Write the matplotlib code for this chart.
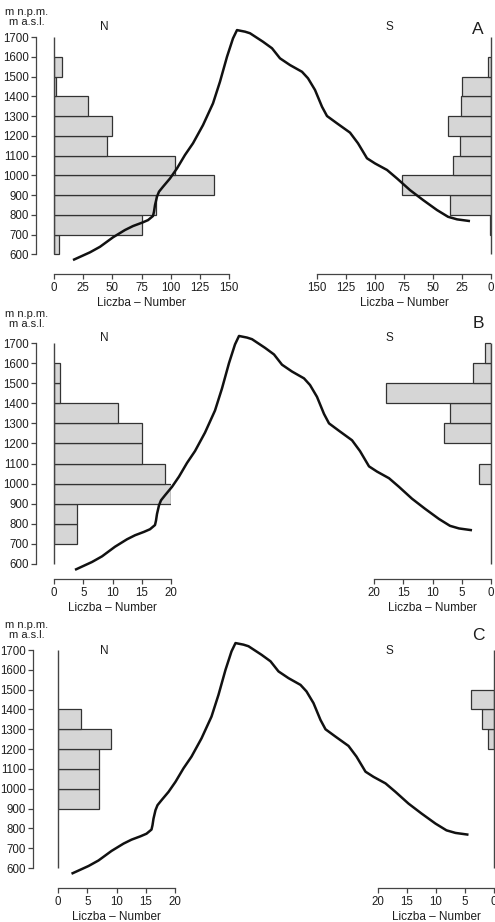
import matplotlib
matplotlib.use('Agg')
import matplotlib.pyplot as plt

W, H = 495, 922
FONT = ['Liberation Sans', 'DejaVu Sans']
plt.rcParams['font.family'] = FONT

# ---------------- data ----------------
elev_bins = [600, 700, 800, 900, 1000, 1100, 1200, 1300, 1400, 1500, 1600]
elev_ticks = [600, 700, 800, 900, 1000, 1100, 1200, 1300, 1400, 1500, 1600, 1700]

A_north = [4, 75, 87, 137, 104, 45, 50, 29, 2, 7, 0]
A_south = [0, 1, 35, 77, 33, 27, 37, 26, 25, 3, 0]
B_north = [0, 4, 4, 20, 19, 15, 15, 11, 1, 1, 0]
B_south = [0, 0, 0, 0, 2, 0, 8, 7, 18, 3, 1]
C_north = [0, 0, 0, 7, 7, 7, 9, 4, 0, 0, 0]
C_south = [0, 0, 0, 0, 0, 0, 1, 2, 4, 0, 0]

A_count_ticks = [0, 25, 50, 75, 100, 125, 150]
BC_count_ticks = [0, 5, 10, 15, 20]

# terrain profile across the ridge (distance units along transect, m a.s.l.)
profile_dist = [73, 90, 100, 113, 125, 133, 142, 148, 153, 154, 155, 157, 159,
                163, 170, 177, 185, 193, 203, 213, 220, 227, 233, 237, 245, 250,
                263, 272, 280, 290, 302, 308, 315, 322, 327, 337, 350, 358, 367,
                375, 387, 397, 410, 423, 437, 448, 457, 470]
profile_elev = [571, 610, 638, 686, 723, 743, 760, 773, 794, 816, 849, 892, 917,
                942, 984, 1035, 1103, 1162, 1254, 1364, 1474, 1600, 1693, 1735, 1727, 1719,
                1676, 1643, 1592, 1558, 1524, 1491, 1432, 1347, 1300, 1263, 1216, 1162, 1086,
                1060, 1027, 984, 925, 875, 824, 790, 777, 768]

unit_label = 'm n.p.m.\nm a.s.l.'
xlabel_txt = 'Liczba – Number'

# ---------------- layout (pixels) ----------------
panels = [
    dict(letter='A', north=A_north, south=A_south, nmax=150, smax=150,
         nticks=A_count_ticks, sticks=A_count_ticks,
         y1700=37, y600=254.3, ybot=274, yaxis_x=41, zn=54, sn=175 / 150,
         zs=491, ss=174 / 150, shift=0, letter_y=30, ns_y=27, unit_y=17),
    dict(letter='B', north=B_north, south=B_south, nmax=20, smax=20,
         nticks=BC_count_ticks, sticks=BC_count_ticks,
         y1700=343, y600=564, ybot=579, yaxis_x=41, zn=54, sn=117 / 20,
         zs=491, ss=117 / 20, shift=2, letter_y=323, ns_y=338, unit_y=319),
    dict(letter='C', north=C_north, south=C_south, nmax=20, smax=20,
         nticks=BC_count_ticks, sticks=BC_count_ticks,
         y1700=650, y600=868, ybot=888, yaxis_x=40, zn=58, sn=117 / 20,
         zs=494, ss=116 / 20, shift=-1.5, letter_y=635, ns_y=651, unit_y=630),
]

BAR_FC = '#d6d6d6'
BAR_EC = '#333333'
AX_C = '#444444'
TXT_C = '#1e1e1e'
TICK_FS = 8.3
LAB_FS = 8.5

fig = plt.figure(figsize=(W / 100, H / 100), dpi=100)


def box(x0, x1, ytop, ybot):
    return [x0 / W, 1 - ybot / H, (x1 - x0) / W, (ybot - ytop) / H]


for p in panels:
    k = (p['y600'] - p['y1700']) / 1100.0  # px per metre
    top_px = p['y1700'] - 16
    ylim = (600 - (p['ybot'] - p['y600']) / k, 1700 + 16 / k)

    # ---- north histogram ----
    axn = fig.add_axes(box(p['zn'], p['zn'] + p['nmax'] * p['sn'], top_px, p['ybot']))
    ys = [b for b, v in zip(elev_bins, p['north']) if v > 0]
    vs = [v for v in p['north'] if v > 0]
    axn.barh(ys, vs, height=100, align='edge', color=BAR_FC, edgecolor=BAR_EC,
             linewidth=0.9, zorder=2)
    axn.vlines(0, 600, 1700, color=AX_C, linewidth=1.0, zorder=3, clip_on=False)
    axn.set_xlim(0, p['nmax'])
    axn.set_ylim(*ylim)
    axn.patch.set_visible(False)
    for s in ('top', 'right'):
        axn.spines[s].set_visible(False)
    axn.spines['left'].set_position(('outward', p['zn'] - p['yaxis_x']))
    axn.spines['left'].set_bounds(600, 1700)
    axn.spines['bottom'].set_bounds(0, p['nmax'])
    for s in ('left', 'bottom'):
        axn.spines[s].set_color(AX_C)
        axn.spines[s].set_linewidth(0.9)
    axn.set_yticks(elev_ticks)
    axn.set_xticks(p['nticks'])
    axn.tick_params(axis='both', direction='out', length=3.6, width=0.9, color=AX_C,
                    labelsize=TICK_FS, pad=1.6, labelcolor=TXT_C)
    axn.tick_params(axis='x', pad=2.5)
    axn.set_xlabel(xlabel_txt, fontsize=LAB_FS, labelpad=2, color=TXT_C)

    # ---- south histogram ----
    axs = fig.add_axes(box(p['zs'] - p['smax'] * p['ss'], p['zs'], top_px, p['ybot']))
    ys = [b for b, v in zip(elev_bins, p['south']) if v > 0]
    vs = [v for v in p['south'] if v > 0]
    axs.barh(ys, vs, height=100, align='edge', color=BAR_FC, edgecolor=BAR_EC,
             linewidth=0.9, zorder=2)
    axs.vlines(0, 600, 1700, color=AX_C, linewidth=1.0, zorder=3, clip_on=False)
    axs.set_xlim(p['smax'], 0)
    axs.set_ylim(*ylim)
    axs.patch.set_visible(False)
    for s in ('top', 'right', 'left'):
        axs.spines[s].set_visible(False)
    axs.spines['bottom'].set_bounds(0, p['smax'])
    axs.spines['bottom'].set_color(AX_C)
    axs.spines['bottom'].set_linewidth(0.9)
    axs.set_yticks([])
    axs.set_xticks(p['sticks'])
    axs.tick_params(axis='x', direction='out', length=3.6, width=0.9, color=AX_C,
                    labelsize=TICK_FS, pad=2.5, labelcolor=TXT_C)
    axs.set_xlabel(xlabel_txt, fontsize=LAB_FS, labelpad=2, color=TXT_C)

    # ---- terrain profile ----
    axp = fig.add_axes(box(p['shift'], W + p['shift'], top_px, p['ybot']))
    axp.plot(profile_dist, profile_elev, color='#111111', linewidth=1.8,
             solid_capstyle='butt', solid_joinstyle='round')
    axp.set_xlim(0, W)
    axp.set_ylim(*ylim)
    axp.axis('off')
    axp.set_zorder(5)

    # ---- labels ----
    fig.text(27 / W, 1 - p['unit_y'] / H, unit_label, ha='center', va='center',
             multialignment='center', linespacing=0.95, fontsize=8, color=TXT_C)
    fig.text(104 / W, 1 - p['ns_y'] / H, 'N', ha='center', va='center',
             fontsize=8.5, color=TXT_C)
    fig.text(389 / W, 1 - p['ns_y'] / H, 'S', ha='center', va='center',
             fontsize=8.5, color=TXT_C)
    fig.text(478 / W, 1 - p['letter_y'] / H, p['letter'], ha='center', va='center',
             fontsize=12.5, color=TXT_C)

fig.savefig('out.png', dpi=100)
